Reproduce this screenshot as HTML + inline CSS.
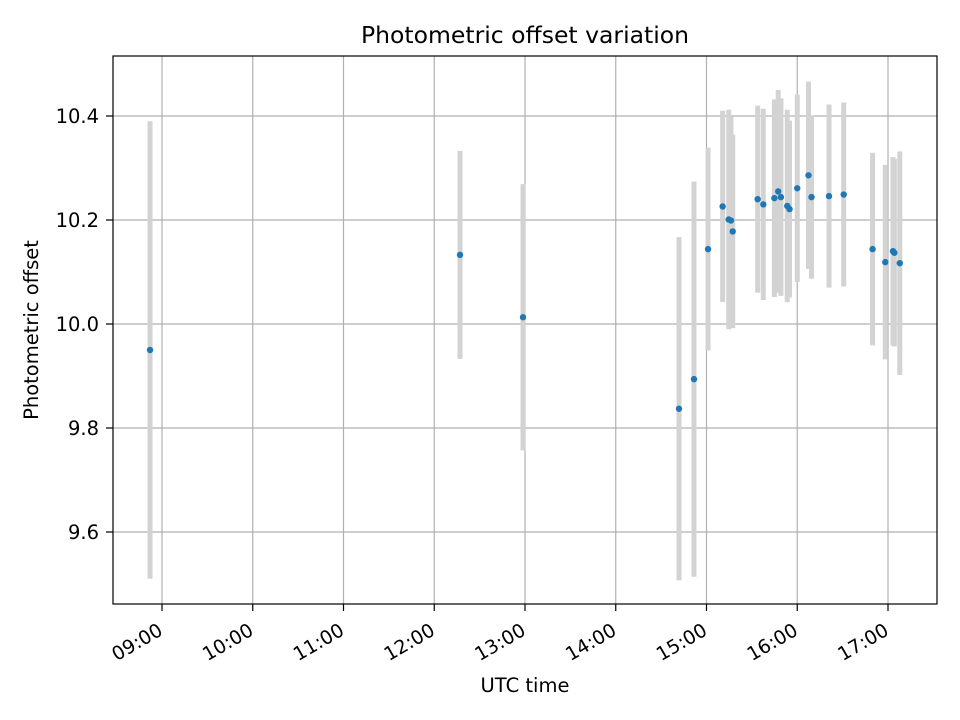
<!DOCTYPE html>
<html><head><meta charset="utf-8"><style>
body{margin:0;background:#fff;}
svg{display:block;font-family:"DejaVu Sans","Liberation Sans",sans-serif;}
</style></head><body>
<svg id="chart" width="960" height="720"></svg>
<script>
const times=[8.868,12.284,12.978,14.697,14.862,15.017,15.178,15.245,15.27,15.289,15.564,15.626,15.748,15.79,15.82,15.89,15.915,16.0,16.124,16.157,16.35,16.512,16.83,16.97,17.055,17.07,17.13];
const values=[9.95,10.133,10.013,9.837,9.894,10.144,10.226,10.201,10.199,10.178,10.24,10.23,10.242,10.255,10.244,10.227,10.221,10.261,10.286,10.244,10.246,10.249,10.144,10.119,10.14,10.137,10.117];
const errors=[0.44,0.2,0.256,0.33,0.38,0.195,0.184,0.211,0.2,0.186,0.18,0.184,0.19,0.195,0.19,0.185,0.17,0.18,0.18,0.157,0.176,0.177,0.185,0.187,0.181,0.18,0.215];
const xTickHours=[9,10,11,12,13,14,15,16,17];
const xTickLabels=["09:00","10:00","11:00","12:00","13:00","14:00","15:00","16:00","17:00"];
const yTicks=[9.6,9.8,10.0,10.2,10.4];
const yTickLabels=["9.6","9.8","10.0","10.2","10.4"];
const L=113,R=937,T=56,B=604;
const X=h=>162+(h-9)*90.75;
const Y=v=>324-(v-10)*520;
const svg=document.getElementById('chart');
const NS='http://www.w3.org/2000/svg';
function mk(tag,attrs,parent){const e=document.createElementNS(NS,tag);for(const k in attrs)e.setAttribute(k,attrs[k]);(parent||svg).appendChild(e);return e;}
xTickHours.forEach((h,i)=>{
 const g=mk('line',{x1:X(h),x2:X(h),y1:T,y2:B,stroke:'#b0b0b0','stroke-width':1.2});
 
 
 mk('line',{x1:X(h),x2:X(h),y1:B,y2:B+7,stroke:'#000','stroke-width':1.2});
 const ax=X(h)+2, ay=B+30;
 const t=mk('text',{x:ax,y:ay,'text-anchor':'end','font-size':19,transform:`rotate(-30 ${ax} ${ay})`});
 t.textContent=xTickLabels[i];
 
 
});
yTicks.forEach((v,i)=>{
 const g=mk('line',{x1:L,x2:R,y1:Y(v),y2:Y(v),stroke:'#b0b0b0','stroke-width':1.2});
 
 
 mk('line',{x1:L-7,x2:L,y1:Y(v),y2:Y(v),stroke:'#000','stroke-width':1.2});
 const t=mk('text',{x:L-14,y:Y(v)+7,'text-anchor':'end','font-size':19.5});
 t.textContent=yTickLabels[i];
 
 
});
times.forEach((h,i)=>{
 const e=mk('line',{x1:X(h),x2:X(h),y1:Y(values[i]+errors[i]),y2:Y(values[i]-errors[i]),stroke:'#d3d3d3','stroke-width':5});
 
 
});
times.forEach((h,i)=>{
 const c=mk('circle',{cx:X(h),cy:Y(values[i]),r:3.2,fill:'#1f77b4'});
 
 
});
const fr=mk('rect',{x:L,y:T,width:R-L,height:B-T,fill:'none',stroke:'#000','stroke-width':1.2});


const ti=mk('text',{x:(L+R)/2,y:43,'text-anchor':'middle','font-size':23.5});
ti.textContent='Photometric offset variation';


const xl=mk('text',{x:(L+R)/2,y:692,'text-anchor':'middle','font-size':19.5});
xl.textContent='UTC time';


const yl=mk('text',{x:38,y:330,'text-anchor':'middle','font-size':19.5,transform:'rotate(-90 38 330)'});
yl.textContent='Photometric offset';


</script>
</body></html>
